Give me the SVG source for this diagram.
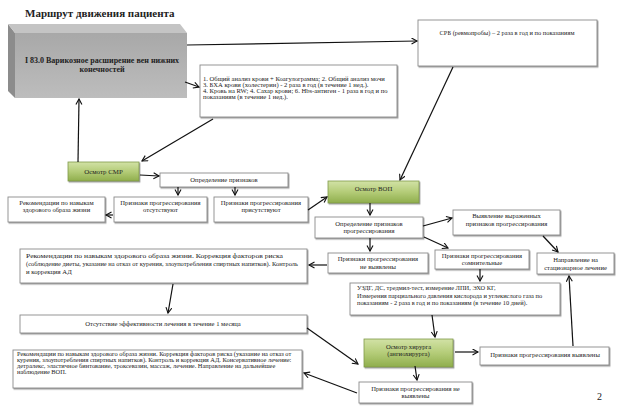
<svg xmlns="http://www.w3.org/2000/svg" width="623" height="408" viewBox="0 0 623 408">
<defs>
<linearGradient id="gr" x1="0" y1="0" x2="0" y2="1">
<stop offset="0" stop-color="#d2e2a6"/>
<stop offset="0.5" stop-color="#b4cc78"/>
<stop offset="1" stop-color="#8fae4c"/>
</linearGradient>
<linearGradient id="front" x1="0" y1="0" x2="0" y2="1">
<stop offset="0" stop-color="#a8a8a8"/>
<stop offset="1" stop-color="#bdbdbd"/>
</linearGradient>
<filter id="sh" x="-10%" y="-20%" width="130%" height="150%">
<feDropShadow dx="1" dy="1.2" stdDeviation="0.6" flood-color="#8a8a8a" flood-opacity="0.8"/>
</filter>
<marker id="ah" markerWidth="8" markerHeight="8" refX="6" refY="3.5" orient="auto" markerUnits="userSpaceOnUse">
<path d="M0.5,0.5 L6,3.5 L0.5,6.5" fill="none" stroke="#111" stroke-width="1.1"/>
</marker>
<style>
text{font-family:"Liberation Serif","Times New Roman",serif;fill:#222}
.bx{fill:#fff;stroke:#8a8a8a;stroke-width:0.9;filter:url(#sh)}
.gb{fill:url(#gr);stroke:#7f9a48;stroke-width:0.8;filter:url(#sh)}
.c{stroke:#111;stroke-width:1.2;fill:none;marker-end:url(#ah)}
.s6{font-size:6.6px}
.m{text-anchor:middle}
</style>
</defs>
<rect width="623" height="408" fill="#fff"/>
<text x="25" y="17" font-size="11" font-weight="bold" fill="#111">Маршрут движения пациента</text>

<g id="diagnosis">
<polygon points="8,24 15,33 15,98 8,91" fill="#8c8c8c"/>
<polygon points="8,24 180,24 187,33 15,33" fill="#c4c4c4"/>
<rect x="15" y="33" width="172" height="65" fill="url(#front)"/>
<text x="102" y="63" class="m" font-size="8" font-weight="bold">I 83.0 Варикозное расширение вен нижних</text>
<text x="102" y="72" class="m" font-size="8" font-weight="bold">конечностей</text>
</g>

<g id="srb">
<rect class="bx" x="418" y="20" width="179" height="46"/>
<text x="507" y="35" class="m" font-size="6.4">СРБ (ревмопробы) – 2 раза в год и по показаниям</text>
</g>

<g id="analyses">
<rect class="bx" x="200" y="65" width="197" height="52"/>
<text x="203" y="81" class="s6">1. Общий анализ крови + Коагулограмма; 2. Общий анализ мочи</text>
<text x="203" y="87" class="s6">3. БХА крови (холестерин) - 2 раза в год (в течение 1 нед.).</text>
<text x="203" y="93" class="s6">4. Кровь на RW; 4. Сахар крови; 6. Hbs-антиген  -  1 раза в год и по</text>
<text x="203" y="99" class="s6">показаниям  (в течение 1 нед.).</text>
</g>

<g id="smr">
<rect class="gb" x="68" y="162" width="71" height="19"/>
<text x="103.5" y="174" class="m" font-size="6.9">Осмотр СМР</text>
</g>

<g id="def1">
<rect class="bx" x="160" y="173" width="128" height="14"/>
<text x="224" y="182" class="m s6">Определение  признаков</text>
</g>

<g id="rec1">
<rect class="bx" x="8" y="197" width="97" height="25"/>
<text x="56.5" y="205" class="m s6">Рекомендации по навыкам</text>
<text x="56.5" y="212" class="m s6">здорового образа жизни</text>
</g>

<g id="absent">
<rect class="bx" x="114" y="197" width="93" height="25"/>
<text x="160.5" y="205" class="m s6">Признаки прогрессирования</text>
<text x="160.5" y="212" class="m s6">отсутствуют</text>
</g>

<g id="present">
<rect class="bx" x="214" y="197" width="94" height="25"/>
<text x="261" y="205" class="m s6">Признаки прогрессирования</text>
<text x="261" y="212" class="m s6">присутствуют</text>
</g>

<g id="vop">
<rect class="gb" x="328" y="181" width="91" height="22"/>
<text x="373.5" y="191" class="m" font-size="6.7">Осмотр ВОП</text>
</g>

<g id="def2">
<rect class="bx" x="315" y="217" width="108" height="21"/>
<text x="369" y="225.5" class="m s6">Определение  признаков</text>
<text x="369" y="232.5" class="m s6">прогрессирования</text>
</g>

<g id="marked">
<rect class="bx" x="453" y="210" width="107" height="25"/>
<text x="506.5" y="217.5" class="m s6">Выявление выраженных</text>
<text x="506.5" y="225.5" class="m s6">признаков прогрессирования</text>
</g>

<g id="notfound1">
<rect class="bx" x="328" y="253" width="100" height="20"/>
<text x="378" y="261" class="m s6">Признаки прогрессирования</text>
<text x="378" y="268.5" class="m s6">не выявлены</text>
</g>

<g id="doubtful">
<rect class="bx" x="435" y="250" width="94" height="19"/>
<text x="482" y="257.5" class="m s6">Признаки прогрессирования</text>
<text x="482" y="265" class="m s6">сомнительные</text>
</g>

<g id="hospital">
<rect class="bx" x="537" y="253" width="77" height="21"/>
<text x="575.5" y="261.5" class="m s6">Направление на</text>
<text x="575.5" y="269.5" class="m s6">стационарное лечение</text>
</g>

<g id="rec2">
<rect class="bx" x="20" y="249" width="287" height="34"/>
<text x="26" y="258" font-size="6.7" textLength="257" lengthAdjust="spacingAndGlyphs">Рекомендации по навыкам здорового образа жизни. Коррекция факторов риска</text>
<text x="26" y="266" font-size="6.7" textLength="272" lengthAdjust="spacingAndGlyphs">(соблюдение диеты, указание на отказ от курения, злоупотребления спиртных напитков). Контроль</text>
<text x="26" y="274" font-size="6.7">и коррекция АД</text>
</g>

<g id="uzdg">
<rect class="bx" x="350" y="283" width="210" height="32"/>
<text x="357" y="290" font-size="6.4">УЗДГ, ДС, тредмил-тест, измерение ЛПИ, ЭХО КГ,</text>
<text x="357" y="297.5" font-size="6.4">Измерения парциального давления кислорода и углекислого газа по</text>
<text x="357" y="305" font-size="6.4">показаниям - 2 раза в год и по показаниям  (в течение 10 дней).</text>
</g>

<g id="noeffect">
<rect class="bx" x="20" y="315" width="287" height="18"/>
<text x="163" y="326" class="m s6">Отсутствие эффективности  лечения в течение 1 месяца</text>
</g>

<g id="surgeon">
<rect class="gb" x="364" y="339" width="89" height="28"/>
<text x="408.5" y="348.5" class="m s6">Осмотр хирурга</text>
<text x="408.5" y="355.5" class="m s6">(ангиохирурга)</text>
</g>

<g id="found">
<rect class="bx" x="480" y="347" width="129" height="18"/>
<text x="545" y="356.5" class="m s6">Признаки прогрессирования выявлены</text>
</g>

<g id="notfound2">
<rect class="bx" x="359" y="382" width="113" height="21"/>
<text x="415.5" y="390.5" class="m s6">Признаки прогрессирования не</text>
<text x="415.5" y="397.5" class="m s6">выявлены</text>
</g>

<g id="rec3">
<rect class="bx" x="13" y="350" width="289" height="38"/>
<text x="17" y="356" font-size="6.4">Рекомендации по навыкам здорового образа жизни. Коррекция факторов риска (указание на отказ от</text>
<text x="17" y="362" font-size="6.4">курения, злоупотребления спиртных напитков). Контроль и коррекция АД. Консервативное лечение:</text>
<text x="17" y="368" font-size="6.4">детралекс, эластичное бинтование, троксевазин, массаж, лечение. Направление на дальнейшее</text>
<text x="17" y="374" font-size="6.4">наблюдение ВОП.</text>
</g>

<text x="597" y="400" font-size="10">2</text>

<g id="connectors">
<line class="c" x1="187" y1="45" x2="417" y2="41"/>
<line class="c" x1="185" y1="82" x2="199" y2="87"/>
<line class="c" x1="78" y1="162" x2="79" y2="99"/>
<line class="c" x1="213" y1="119" x2="142" y2="161"/>
<line class="c" x1="140" y1="175" x2="159" y2="176"/>
<line class="c" x1="178" y1="187" x2="178" y2="195"/>
<line class="c" x1="235" y1="187" x2="235" y2="195"/>
<line class="c" x1="113" y1="215" x2="106" y2="215"/>
<line class="c" x1="308" y1="210" x2="327" y2="197"/>
<line class="c" x1="453" y1="67" x2="400" y2="180"/>
<line class="c" x1="370" y1="203" x2="370" y2="215"/>
<line class="c" x1="423" y1="226" x2="452" y2="218"/>
<line class="c" x1="424" y1="237" x2="448" y2="248"/>
<line class="c" x1="543" y1="236" x2="558" y2="252"/>
<line class="c" x1="370" y1="238" x2="370" y2="251"/>
<line class="c" x1="327" y1="265" x2="309" y2="265"/>
<line class="c" x1="480" y1="269" x2="480" y2="281"/>
<line class="c" x1="173" y1="284" x2="168" y2="313"/>
<line class="c" x1="307" y1="328" x2="358" y2="364"/>
<line class="c" x1="432" y1="315" x2="435" y2="337"/>
<line class="c" x1="455" y1="352" x2="478" y2="352"/>
<line class="c" x1="573" y1="346" x2="569" y2="276"/>
<line class="c" x1="415" y1="366" x2="417" y2="380"/>
<line class="c" x1="357" y1="393" x2="304" y2="373"/>
</g>
</svg>
